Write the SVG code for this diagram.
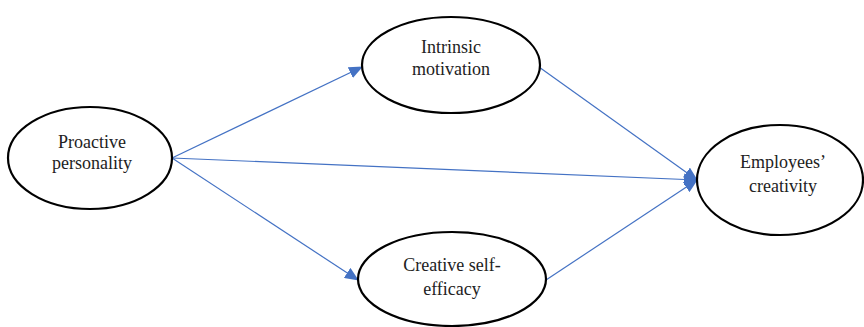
<svg xmlns="http://www.w3.org/2000/svg" width="864" height="327" viewBox="0 0 864 327">
<style>
.n{fill:#fff;stroke:#000;stroke-width:2.2}
.t{font-family:'Liberation Serif','Times New Roman',Times,serif;font-size:18px;fill:#222;text-anchor:middle}
.c{stroke:#4472C4;stroke-width:1.2;fill:none;marker-end:url(#a)}
</style>
<defs>
<marker id="a" markerWidth="14" markerHeight="12" refX="13" refY="6" orient="auto" markerUnits="userSpaceOnUse">
<path d="M0,0 L14,6 L0,12 Z" fill="#4472C4"/>
</marker>
</defs>
<rect width="864" height="327" fill="#fff"/>
<g id="connectors">
<line class="c" x1="172" y1="158" x2="362" y2="67"/>
<line class="c" x1="172" y1="158" x2="358" y2="280"/>
<line class="c" x1="172" y1="158" x2="697" y2="180"/>
<line class="c" x1="539" y1="67" x2="697" y2="180"/>
<line class="c" x1="546" y1="280" x2="697" y2="180"/>
</g>
<g id="proactive">
<ellipse class="n" cx="90" cy="158" rx="82" ry="51"/>
<text class="t" x="92" y="148">Proactive</text>
<text class="t" x="92" y="169">personality</text>
</g>
<g id="intrinsic">
<ellipse class="n" cx="451" cy="65" rx="89" ry="48"/>
<text class="t" x="451" y="53">Intrinsic</text>
<text class="t" x="451" y="75">motivation</text>
</g>
<g id="creative">
<ellipse class="n" cx="452" cy="279" rx="94" ry="47"/>
<text class="t" x="452" y="271">Creative self-</text>
<text class="t" x="452" y="295">efficacy</text>
</g>
<g id="employees">
<ellipse class="n" cx="780" cy="180" rx="83" ry="55"/>
<text class="t" x="783" y="168">Employees’</text>
<text class="t" x="783" y="192">creativity</text>
</g>
</svg>
